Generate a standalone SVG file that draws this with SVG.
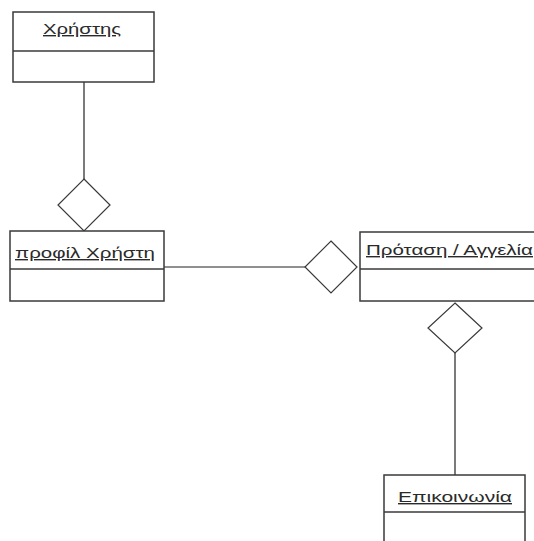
<svg xmlns="http://www.w3.org/2000/svg" width="534" height="541" viewBox="0 0 534 541">
<style>
.box{fill:#fff;stroke:#3a3a3a;stroke-width:1.5}
.div{stroke:#3a3a3a;stroke-width:1.5}
.con{fill:none;stroke:#222;stroke-width:1.2}
.dia{fill:#fff;stroke:#3a3a3a;stroke-width:1.2}
.lbl{font-family:"Liberation Sans",Arial,sans-serif;font-size:14px;fill:#2a2a2a;text-decoration:underline}
</style>
<rect width="534" height="541" fill="#fff"/>
<g id="connectors">
<line class="con" x1="84" y1="82" x2="84" y2="179"/>
<line class="con" x1="164" y1="267" x2="305" y2="267"/>
<line class="con" x1="455" y1="353" x2="455" y2="475"/>
<polygon class="dia" points="84,179 110,205 84,231 58,205"/>
<polygon class="dia" points="331,241 357,267 331,293 305,267"/>
<polygon class="dia" points="455,303 482,328 455,353 428,328"/>
</g>
<g id="node-xristis">
<rect class="box" x="13" y="12" width="141" height="70"/>
<line class="div" x1="13" y1="51" x2="154" y2="51"/>
<text class="lbl" x="43" y="34" textLength="78" lengthAdjust="spacingAndGlyphs">Χρήστης</text>
</g>
<g id="node-profil">
<rect class="box" x="10" y="231" width="154" height="70"/>
<line class="div" x1="10" y1="269" x2="164" y2="269"/>
<text class="lbl" x="15" y="258" textLength="140" lengthAdjust="spacingAndGlyphs">προφίλ Χρήστη</text>
</g>
<g id="node-protasi">
<rect class="box" x="360" y="232" width="190" height="69"/>
<line class="div" x1="360" y1="269" x2="550" y2="269"/>
<text class="lbl" x="366" y="255" textLength="167" lengthAdjust="spacingAndGlyphs">Πρόταση / Αγγελία</text>
</g>
<g id="node-epikoinonia">
<rect class="box" x="384" y="475" width="141" height="80"/>
<line class="div" x1="384" y1="512" x2="525" y2="512"/>
<text class="lbl" x="398" y="502" textLength="114" lengthAdjust="spacingAndGlyphs">Επικοινωνία</text>
</g>
</svg>
